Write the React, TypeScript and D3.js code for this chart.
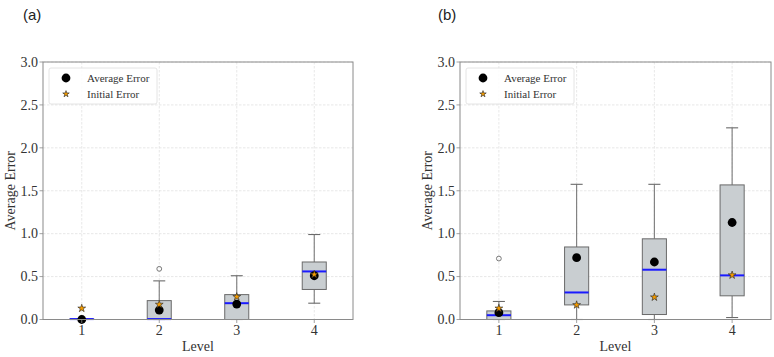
import React from "react";
import * as d3 from "d3";

// Per-level statistics, panel (a)
const levels = [1, 2, 3, 4];
const aQ1 = [0, 0, 0, 0.35];
const aMedian = [0.005, 0.005, 0.19, 0.56];
const aQ3 = [0.005, 0.22, 0.29, 0.67];
const aWhiskerLow = [0, 0, 0, 0.19];
const aWhiskerHigh = [0.005, 0.45, 0.51, 0.99];
const aOutliers = [[], [0.59], [], []];
const aAverage = [0, 0.11, 0.18, 0.51];
const aInitial = [0.13, 0.175, 0.265, 0.525];

// Per-level statistics, panel (b)
const bQ1 = [0, 0.17, 0.058, 0.276];
const bMedian = [0.05, 0.315, 0.58, 0.514];
const bQ3 = [0.1, 0.845, 0.94, 1.568];
const bWhiskerLow = [0, 0, 0, 0.023];
const bWhiskerHigh = [0.21, 1.575, 1.575, 2.233];
const bOutliers = [[0.71], [], [], []];
const bAverage = [0.08, 0.72, 0.67, 1.13];
const bInitial = [0.13, 0.17, 0.26, 0.517];

const yTicks = [0, 0.5, 1.0, 1.5, 2.0, 2.5, 3.0];
const legendLabels = ["Average Error", "Initial Error"];

const SERIF = "'Liberation Serif', 'Times New Roman', serif";
const SANS = "'Liberation Sans', Arial, sans-serif";

type PanelProps = {
  left: number;
  right: number;
  top: number;
  bottom: number;
  tag: string;
  tagX: number;
  q1: number[];
  median: number[];
  q3: number[];
  wLow: number[];
  wHigh: number[];
  outliers: number[][];
  average: number[];
  initial: number[];
};

function Panel(p: PanelProps) {
  const x = d3.scaleLinear().domain([0.5, 4.5]).range([p.left, p.right]);
  const y = d3.scaleLinear().domain([0, 3]).range([p.bottom, p.top]);
  const step = x(2) - x(1);
  const boxW = step * 0.31;
  const capW = boxW / 2;
  const star = d3.symbol().type(d3.symbolStar).size(19)()!;
  const starLegend = d3.symbol().type(d3.symbolStar).size(13)()!;

  return (
    <g>
      <text x={p.tagX} y={20} fontFamily={SANS} fontSize={15} fill="#222">
        {p.tag}
      </text>
      {/* grid */}
      {yTicks.map((t) => (
        <line
          key={"gy" + t}
          x1={p.left}
          x2={p.right}
          y1={y(t)}
          y2={y(t)}
          stroke="#e2e2e2"
          strokeWidth={0.8}
          strokeDasharray="2.5,1.5"
        />
      ))}
      {levels.map((l) => (
        <line
          key={"gx" + l}
          x1={x(l)}
          x2={x(l)}
          y1={p.top}
          y2={p.bottom}
          stroke="#e2e2e2"
          strokeWidth={0.8}
          strokeDasharray="2.5,1.5"
        />
      ))}
      {/* boxes */}
      {levels.map((l, i) => {
        const cx = x(l);
        return (
          <g key={"box" + l}>
            <line x1={cx} x2={cx} y1={y(p.q3[i])} y2={y(p.wHigh[i])} stroke="#7a7a7a" strokeWidth={1.1} />
            <line x1={cx} x2={cx} y1={y(p.q1[i])} y2={y(p.wLow[i])} stroke="#7a7a7a" strokeWidth={1.1} />
            <line x1={cx - capW / 2} x2={cx + capW / 2} y1={y(p.wHigh[i])} y2={y(p.wHigh[i])} stroke="#6a6a6a" strokeWidth={1.1} />
            <line x1={cx - capW / 2} x2={cx + capW / 2} y1={y(p.wLow[i])} y2={y(p.wLow[i])} stroke="#6a6a6a" strokeWidth={1.1} />
            <rect
              x={cx - boxW / 2}
              y={y(p.q3[i])}
              width={boxW}
              height={Math.max(0, y(p.q1[i]) - y(p.q3[i]))}
              fill="#c9ced1"
              stroke="#6a6a6a"
              strokeWidth={1}
            />
            <line
              x1={cx - boxW / 2}
              x2={cx + boxW / 2}
              y1={y(p.median[i])}
              y2={y(p.median[i])}
              stroke="#1a1aff"
              strokeWidth={2}
            />
            {p.outliers[i].map((o, k) => (
              <circle key={k} cx={cx} cy={y(o)} r={2.4} fill="none" stroke="#777" strokeWidth={1} />
            ))}
            <circle cx={cx} cy={y(p.average[i])} r={4.4} fill="#000" />
            <path
              d={star}
              transform={`translate(${cx},${y(p.initial[i])})`}
              fill="#f59c00"
              stroke="#222"
              strokeWidth={0.6}
            />
          </g>
        );
      })}
      {/* frame */}
      <rect
        x={p.left}
        y={p.top}
        width={p.right - p.left}
        height={p.bottom - p.top}
        fill="none"
        stroke="#8a8a8a"
        strokeWidth={1}
      />
      {/* y axis */}
      {yTicks.map((t) => (
        <g key={"yt" + t}>
          <line x1={p.left - 3.5} x2={p.left} y1={y(t)} y2={y(t)} stroke="#8a8a8a" strokeWidth={0.8} />
          <text
            x={p.left - 5}
            y={y(t)}
            dy="0.34em"
            textAnchor="end"
            fontFamily={SERIF}
            fontSize={14}
            fill="#333"
          >
            {t.toFixed(1)}
          </text>
        </g>
      ))}
      {/* x axis */}
      {levels.map((l) => (
        <g key={"xt" + l}>
          <line x1={x(l)} x2={x(l)} y1={p.bottom} y2={p.bottom + 3.5} stroke="#8a8a8a" strokeWidth={0.8} />
          <text
            x={x(l)}
            y={p.bottom + 15}
            textAnchor="middle"
            fontFamily={SERIF}
            fontSize={14}
            fill="#333"
          >
            {l}
          </text>
        </g>
      ))}
      <text
        x={(p.left + p.right) / 2}
        y={351}
        textAnchor="middle"
        fontFamily={SERIF}
        fontSize={14}
        fill="#333"
      >
        Level
      </text>
      <text
        transform={`translate(${p.left - 28},${(p.top + p.bottom) / 2}) rotate(-90)`}
        textAnchor="middle"
        fontFamily={SERIF}
        fontSize={14}
        fill="#333"
      >
        Average Error
      </text>
      {/* legend */}
      <g transform={`translate(${p.left + 6},${p.top + 6})`}>
        <rect x={0} y={0} width={108} height={36} rx={2} fill="#fff" fillOpacity={0.85} stroke="#dddddd" strokeWidth={0.8} />
        <circle cx={17} cy={10} r={4.4} fill="#000" />
        <path d={starLegend} transform="translate(17,26)" fill="#f59c00" stroke="#222" strokeWidth={0.6} />
        <text x={38} y={14} fontFamily={SERIF} fontSize={11} fill="#333">
          {legendLabels[0]}
        </text>
        <text x={38} y={30} fontFamily={SERIF} fontSize={11} fill="#333">
          {legendLabels[1]}
        </text>
      </g>
    </g>
  );
}

export default function App() {
  return (
    <svg
      width={774}
      height={357}
      style={{ position: "absolute", left: 0, top: 0, background: "#fff" }}
    >
      <Panel
        left={43}
        right={353}
        top={62}
        bottom={319.5}
        tag="(a)"
        tagX={23}
        q1={aQ1}
        median={aMedian}
        q3={aQ3}
        wLow={aWhiskerLow}
        wHigh={aWhiskerHigh}
        outliers={aOutliers}
        average={aAverage}
        initial={aInitial}
      />
      <Panel
        left={460}
        right={771}
        top={62}
        bottom={319.5}
        tag="(b)"
        tagX={438}
        q1={bQ1}
        median={bMedian}
        q3={bQ3}
        wLow={bWhiskerLow}
        wHigh={bWhiskerHigh}
        outliers={bOutliers}
        average={bAverage}
        initial={bInitial}
      />
    </svg>
  );
}
